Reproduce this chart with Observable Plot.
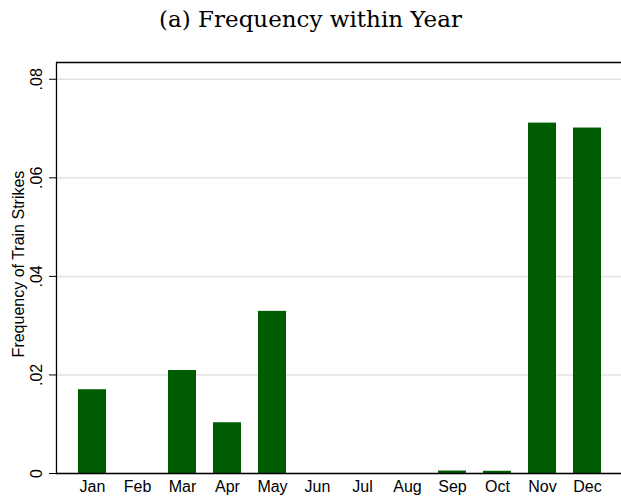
<!DOCTYPE html>
<html>
<head>
<meta charset="utf-8">
<script src="https://cdn.jsdelivr.net/npm/d3@7"></script>
<script src="https://cdn.jsdelivr.net/npm/@observablehq/plot@0.6"></script>
<style>
  html, body { margin: 0; padding: 0; background: #fff; }
  #title { height: 40px; width: 621px; text-align: center; font-family: "DejaVu Serif", serif; font-size: 23px; line-height: 38px; color: #000; }
  svg { display: block; }
</style>
</head>
<body>
<div id="title">(a) Frequency within Year</div>
<div id="chart"></div>
<script>
const months = ["Jan","Feb","Mar","Apr","May","Jun","Jul","Aug","Sep","Oct","Nov","Dec"];
const freq = [0.0170, 0, 0.0209, 0.0103, 0.0329, 0, 0, 0, 0.0005, 0.00045, 0.0711, 0.0701];
const yTicks = [0, 0.02, 0.04, 0.06, 0.08];
const yTickLabels = ["0", ".02", ".04", ".06", ".08"];
const yLabel = "Frequency of Train Strikes";

const data = months.map((m, i) => ({month: m, value: freq[i]}));
const yTop = 0.0834;

const chart = Plot.plot({
  width: 621,
  height: 464,
  marginTop: 22,
  marginBottom: 31,
  marginLeft: 56,
  marginRight: 0,
  style: {fontFamily: "'Liberation Sans', Arial, sans-serif", fontSize: "16px", color: "#000", background: "#fff"},
  x: {domain: months, range: [56, 623], paddingInner: 0.38, paddingOuter: 0.48, align: 0.5},
  y: {domain: [0, yTop]},
  marks: [
    Plot.gridY(yTicks, {stroke: "#e3e3e3", strokeOpacity: 1, strokeWidth: 1.5}),
    Plot.barY(data, {x: "month", y: "value", fill: "#005c00"}),
    Plot.ruleY([0], {stroke: "#000", strokeWidth: 1.3}),
    Plot.ruleY([yTop], {stroke: "#000", strokeWidth: 1.3}),
    Plot.axisY({
      ticks: yTicks,
      tickFormat: (d) => yTickLabels[yTicks.indexOf(d)],
      tickSize: 7,
      tickPadding: 8,
      tickRotate: -90,
      fontSize: 16,
      label: null
    }),
    Plot.text([yLabel], {text: d => d, frameAnchor: "left", textAnchor: "middle", dx: -38, dy: -4, rotate: -90, fontSize: 16, fill: "#000"}),
    Plot.axisX({tickSize: 0, tickPadding: 7, fontSize: 16, label: null}),
    Plot.frame({anchor: "left", stroke: "#000", strokeWidth: 1.3})
  ]
});
document.getElementById("chart").appendChild(chart);
</script>
</body>
</html>
